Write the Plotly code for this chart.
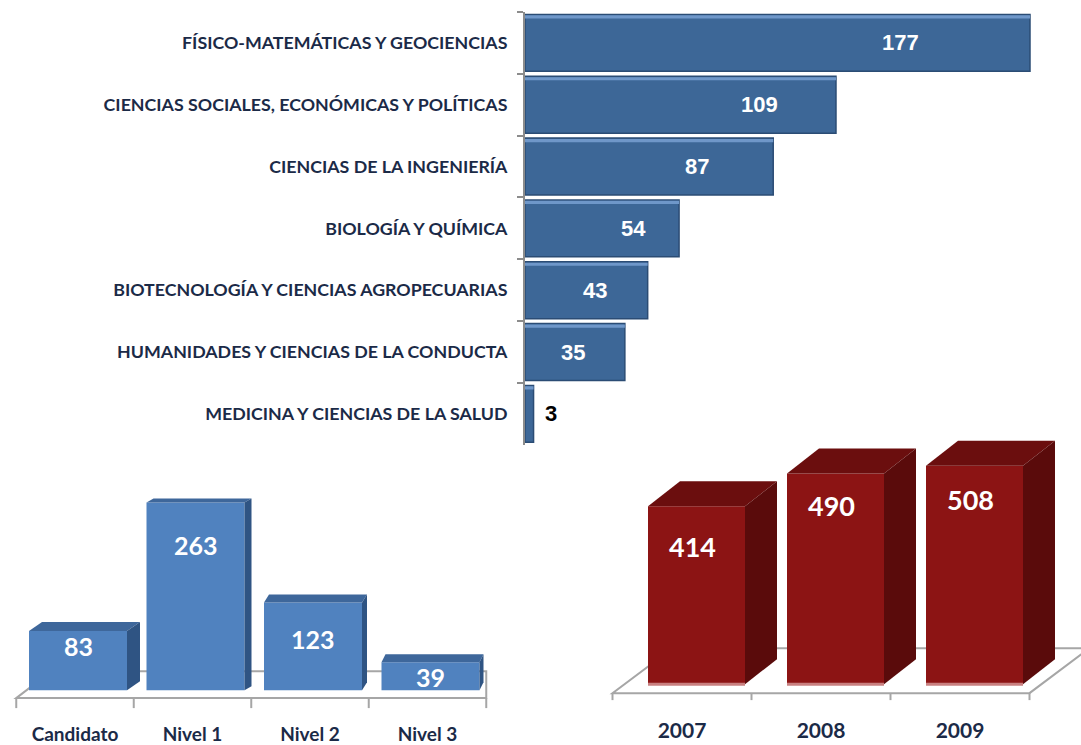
import plotly.graph_objects as go

W, H = 1081, 745

# ---------------- data ----------------
areas = [
    "FÍSICO-MATEMÁTICAS Y GEOCIENCIAS",
    "CIENCIAS SOCIALES, ECONÓMICAS Y POLÍTICAS",
    "CIENCIAS DE LA INGENIERÍA",
    "BIOLOGÍA Y QUÍMICA",
    "BIOTECNOLOGÍA Y CIENCIAS AGROPECUARIAS",
    "HUMANIDADES Y CIENCIAS DE LA CONDUCTA",
    "MEDICINA Y CIENCIAS DE LA SALUD",
]
area_values = [177, 109, 87, 54, 43, 35, 3]

levels = ["Candidato", "Nivel 1", "Nivel 2", "Nivel 3"]
level_values = [83, 263, 123, 39]

years = ["2007", "2008", "2009"]
year_values = [414, 490, 508]

# ---------------- style ----------------
NAVY = "#1B2A47"
GRID = "#A6A6A6"
LABEL_FONT = "Lato, Carlito, Calibri, Open Sans, sans-serif"
NUM_FONT = "Liberation Sans Narrow, Arial Narrow, Liberation Sans, Arial, sans-serif"

top_label_shift = [-130, -76, -76, -46, -53, -52, 17]   # px, label placement
left_label_shift = [-15, -42, -37, -15]                 # px below bar top
right_label_shift = [-40, -32, -34]

# ---- pixel geometry of each panel (layout helpers) ----
T_X0, T_X1, T_Y0, T_Y1 = 525, 1081, 12, 446
T_K = (1030 - 525) / 177.0
L_X0, L_X1, L_Y0, L_Y1 = 0, 500, 470, 712
L_C0, L_KX, L_BASE, L_KY = 75, 117.5, 692, 0.715
R_X0, R_X1, R_Y0, R_Y1 = 600, 1081, 430, 705
R_C0, R_KX, R_BASE, R_KY = 682, 139.0, 686, 0.431

fig = go.Figure()
shapes = []
annotations = []

# ================= TOP: horizontal bars =================
fig.add_trace(go.Bar(
    x=area_values, y=areas, orientation="h", xaxis="x", yaxis="y",
    marker=dict(color="#3D6797", line=dict(color="#2B4C74", width=1.5)),
    width=0.92, hoverinfo="x+y",
))
# bevel highlight along the top edge of each bar
fig.add_trace(go.Bar(
    x=area_values, y=areas, orientation="h", xaxis="x", yaxis="y",
    marker=dict(color="#6F97C9", line=dict(width=0)),
    width=0.05, offset=-0.445, hoverinfo="skip",
))
for a, v, s in zip(areas, area_values, top_label_shift):
    annotations.append(dict(
        x=v, y=a, xref="x", yref="y", xshift=s, showarrow=False,
        text=f"<b>{v}</b>",
        font=dict(family=NUM_FONT, size=22, color="white" if s < 0 else "black"),
    ))


def faces(xc, w, v, dxu, dyu):
    x0, x1 = xc - w / 2, xc + w / 2
    top = dict(x=[x0, x1, x1 + dxu, x0 + dxu, x0], y=[v, v, v + dyu, v + dyu, v])
    side = dict(x=[x1, x1 + dxu, x1 + dxu, x1, x1], y=[v, v + dyu, dyu, 0, v])
    return top, side


def floor(ax, ay, n, y_front, y_back, dxl, dxr, tick_len):
    xl, xr = -0.5, n - 0.5
    path = (f"M{xl},{y_front} L{xr},{y_front} L{xr + dxr},{y_back} "
            f"L{xl + dxl},{y_back} Z")
    shapes.append(dict(type="path", path=path, xref=ax, yref=ay, layer="below",
                       line=dict(color=GRID, width=2), fillcolor="rgba(0,0,0,0)"))
    for i in range(n + 1):
        shapes.append(dict(type="line", xref=ax, yref=ay, layer="below",
                           x0=i - 0.5, x1=i - 0.5, y0=y_front, y1=y_front - tick_len,
                           line=dict(color=GRID, width=2)))


# ================= BOTTOM-LEFT: 3D blue columns =================
l_w = 98 / L_KX
l_shift = 3 / L_KX
l_dx = [13, 7, 5, 4]
l_dy = [9, 4, 8, 8]
floor("x2", "y2", len(levels), -(700 - L_BASE) / L_KY, (L_BASE - 673) / L_KY,
      35 / L_KX, 0, 10 / L_KY)
lx = [i + l_shift for i in range(len(levels))]
fig.add_trace(go.Bar(x=lx, y=level_values, width=l_w, xaxis="x2", yaxis="y2",
                     marker=dict(color="#5082BF", line=dict(width=0)),
                     hovertext=levels, hoverinfo="text+y"))
for i, v in enumerate(level_values):
    top, side = faces(lx[i], l_w, v, l_dx[i] / L_KX, l_dy[i] / L_KY)
    fig.add_trace(go.Scatter(**top, xaxis="x2", yaxis="y2", mode="lines", fill="toself",
                             fillcolor="#3E679B", line=dict(width=0), hoverinfo="skip"))
    fig.add_trace(go.Scatter(**side, xaxis="x2", yaxis="y2", mode="lines", fill="toself",
                             fillcolor="#2F5483", line=dict(width=0), hoverinfo="skip"))
    annotations.append(dict(x=lx[i], y=v, xref="x2", yref="y2", yshift=left_label_shift[i],
                            showarrow=False, text=f"<b>{v}</b>",
                            font=dict(family=LABEL_FONT, size=25, color="white")))

# ================= BOTTOM-RIGHT: 3D red columns =================
r_w = 97 / R_KX
r_shift = 14.5 / R_KX
r_dxu, r_dyu = 32 / R_KX, 25 / R_KY
floor("x3", "y3", len(years), -(695 - R_BASE) / R_KY, (R_BASE - 650) / R_KY,
      60 / R_KX, 60 / R_KX, 7 / R_KY)
rx = [i + r_shift for i in range(len(years))]
fig.add_trace(go.Bar(x=rx, y=year_values, width=r_w, xaxis="x3", yaxis="y3",
                     marker=dict(color="#8C1414", line=dict(width=0)),
                     hovertext=years, hoverinfo="text+y"))
for i, v in enumerate(year_values):
    top, side = faces(rx[i], r_w, v, r_dxu, r_dyu)
    fig.add_trace(go.Scatter(**top, xaxis="x3", yaxis="y3", mode="lines", fill="toself",
                             fillcolor="#6B0E0E", line=dict(width=0), hoverinfo="skip"))
    fig.add_trace(go.Scatter(**side, xaxis="x3", yaxis="y3", mode="lines", fill="toself",
                             fillcolor="#5A0B0B", line=dict(width=0), hoverinfo="skip"))
    fig.add_trace(go.Scatter(x=[rx[i] - r_w / 2, rx[i] + r_w / 2], y=[0, 0],
                             xaxis="x3", yaxis="y3", mode="lines",
                             line=dict(color="#C98080", width=3), hoverinfo="skip"))
    annotations.append(dict(x=rx[i] - 4 / R_KX, y=v, xref="x3", yref="y3",
                            yshift=right_label_shift[i], showarrow=False,
                            text=f"<b>{v}</b>",
                            font=dict(family=LABEL_FONT, size=27, color="white")))

# ================= axes =================
fig.update_layout(
    width=W, height=H, margin=dict(l=0, r=0, t=0, b=0),
    paper_bgcolor="white", plot_bgcolor="rgba(0,0,0,0)",
    showlegend=False, barmode="overlay",
    annotations=annotations, shapes=shapes,
    xaxis=dict(domain=[T_X0 / W, T_X1 / W], range=[0, (T_X1 - T_X0) / T_K],
               visible=False, fixedrange=True),
    yaxis=dict(domain=[(H - T_Y1) / H, (H - T_Y0) / H], anchor="x",
               type="category", categoryorder="array", categoryarray=areas,
               autorange="reversed",
               showline=True, linecolor="#8C8C8C", linewidth=2,
               ticks="outside", tickson="boundaries", ticklen=6, tickwidth=2,
               tickcolor="#8C8C8C", ticklabelstandoff=12,
               tickfont=dict(family=LABEL_FONT, size=17.8, color=NAVY, weight="bold"),
               showgrid=False, zeroline=False, fixedrange=True),
    xaxis2=dict(domain=[L_X0 / W, L_X1 / W], anchor="y2",
                range=[(L_X0 - L_C0) / L_KX, (L_X1 - L_C0) / L_KX],
                tickmode="array", tickvals=list(range(len(levels))), ticktext=levels,
                ticks="", showline=False, showgrid=False, zeroline=False,
                ticklabelstandoff=11,
                tickfont=dict(family=LABEL_FONT, size=19, color=NAVY, weight="bold"),
                fixedrange=True),
    yaxis2=dict(domain=[(H - L_Y1) / H, (H - L_Y0) / H], anchor="x2",
                range=[-(L_Y1 - L_BASE) / L_KY, (L_BASE - L_Y0) / L_KY],
                visible=False, fixedrange=True),
    xaxis3=dict(domain=[R_X0 / W, R_X1 / W], anchor="y3",
                range=[(R_X0 - R_C0) / R_KX, (R_X1 - R_C0) / R_KX],
                tickmode="array", tickvals=list(range(len(years))), ticktext=years,
                ticks="", showline=False, showgrid=False, zeroline=False,
                ticklabelstandoff=13,
                tickfont=dict(family=LABEL_FONT, size=21, color=NAVY, weight="bold"),
                fixedrange=True),
    yaxis3=dict(domain=[(H - R_Y1) / H, (H - R_Y0) / H], anchor="x3",
                range=[-(R_Y1 - R_BASE) / R_KY, (R_BASE - R_Y0) / R_KY],
                visible=False, fixedrange=True),
)

fig.write_html("out.html", config={"displayModeBar": False},
               post_script="document.body.style.margin='0';document.body.style.overflow='hidden';")
